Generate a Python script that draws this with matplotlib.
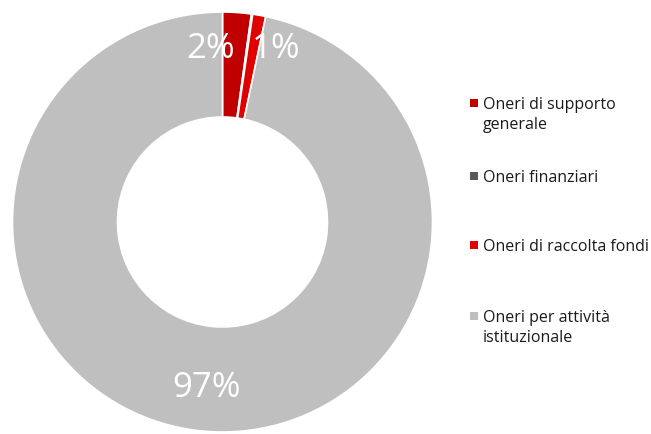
import matplotlib
matplotlib.use("Agg")
import matplotlib.pyplot as plt
from matplotlib.patches import Rectangle

categories = ["Oneri di supporto\ngenerale", "Oneri finanziari",
              "Oneri di raccolta fondi", "Oneri per attività\nistituzionale"]
values = [2.2, 0.1, 1.0, 96.7]
pct_labels = ["2%", "", "1%", "97%"]
colors = ["#C00000", "#595959", "#E00000", "#BFBFBF"]

# label positions in data units (radius 1 = outer edge)
label_pos = [(-0.055, 0.83), None, (0.255, 0.83), (-0.074, -0.785)]

W, H = 651, 435
fig = plt.figure(figsize=(W / 100, H / 100), dpi=100)
fig.patch.set_facecolor("white")

cx, cy, R = 222.5, 223, 210
ax = fig.add_axes([(cx - R) / W, (H - cy - R) / H, 2 * R / W, 2 * R / H])
ax.pie(values, colors=colors, startangle=90, counterclock=False, radius=1.0,
       wedgeprops=dict(width=0.5, edgecolor="white", linewidth=1.2))
ax.set_xlim(-1, 1)
ax.set_ylim(-1, 1)
ax.set_aspect("equal")
ax.axis("off")

for lab, pos in zip(pct_labels, label_pos):
    if pos is None or not lab:
        continue
    ax.text(pos[0], pos[1], lab, color="white", fontsize=25, family="Open Sans",
            ha="center", va="center")

# legend
legend_y = [104, 177, 246, 317]
for cat, col, y in zip(categories, colors, legend_y):
    fig.patches.append(Rectangle((470 / W, 1 - (y + 4) / H), 8 / W, 8 / H,
                                 transform=fig.transFigure, facecolor=col,
                                 edgecolor="none"))
    fig.text(483 / W, 1 - (y - 7) / H, cat, fontsize=11.5, family="Open Sans",
             color="#1a1a1a", ha="left", va="top", linespacing=1.3,
             multialignment="left")

fig.savefig("out.png", dpi=100)
